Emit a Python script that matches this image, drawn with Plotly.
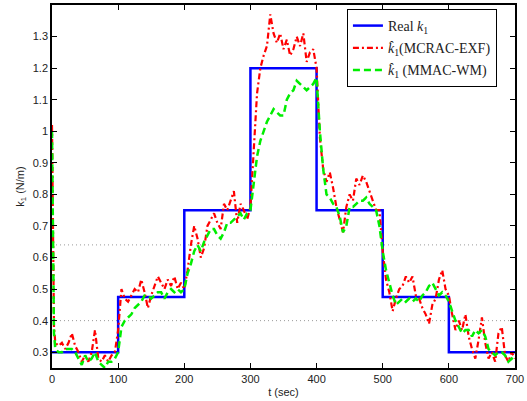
import plotly.graph_objects as go

# Time samples (s) shared by both estimator traces
t = [0, 1, 2, 3] + list(range(5, 701, 5))

# Estimated stiffness, MCRAC-EXF
k1_mcrac = [
    1.02, 0.80, 0.55, 0.38,
    0.33, 0.32, 0.33, 0.31, 0.33, 0.36, 0.32, 0.30, 0.27, 0.29,
    0.27, 0.30, 0.37, 0.28, 0.27, 0.29, 0.27, 0.29, 0.30, 0.37,
    0.50, 0.47, 0.46, 0.48, 0.50, 0.49, 0.53, 0.49, 0.44, 0.48,
    0.51, 0.54, 0.52, 0.50, 0.53, 0.51, 0.54, 0.50, 0.52, 0.50,
    0.56, 0.64, 0.70, 0.66, 0.60, 0.63, 0.70, 0.72, 0.74, 0.71,
    0.69, 0.77, 0.75, 0.78, 0.81, 0.71, 0.77, 0.75, 0.72, 0.76,
    0.95, 1.12, 1.20, 1.24, 1.27, 1.37, 1.31, 1.28, 1.31, 1.26,
    1.29, 1.24, 1.26, 1.30, 1.27, 1.31, 1.22, 1.25, 1.26, 1.20,
    0.98, 0.88, 0.84, 0.87, 0.82, 0.76, 0.72, 0.68, 0.76, 0.80,
    0.78, 0.85, 0.83, 0.86, 0.84, 0.81, 0.78, 0.75, 0.75, 0.62,
    0.53, 0.49, 0.43, 0.47, 0.50, 0.51, 0.54, 0.52, 0.54, 0.48,
    0.47, 0.44, 0.42, 0.39, 0.45, 0.47, 0.53, 0.56, 0.50, 0.48,
    0.42, 0.37, 0.40, 0.37, 0.42, 0.35, 0.31, 0.28, 0.34, 0.41,
    0.33, 0.28, 0.30, 0.27, 0.36, 0.38, 0.29, 0.27, 0.30, 0.28,
]

# Estimated stiffness, MMAC-WM
k1_mmac = [
    1.00, 0.78, 0.55, 0.36,
    0.31, 0.30, 0.30, 0.31, 0.31, 0.31, 0.30, 0.28, 0.26, 0.29,
    0.27, 0.28, 0.30, 0.27, 0.26, 0.25, 0.27, 0.27, 0.28, 0.30,
    0.38, 0.40, 0.41, 0.42, 0.44, 0.45, 0.46, 0.48, 0.48, 0.47,
    0.48, 0.49, 0.49, 0.47, 0.49, 0.50, 0.49, 0.50, 0.49, 0.50,
    0.55, 0.58, 0.62, 0.64, 0.62, 0.65, 0.67, 0.69, 0.69, 0.67,
    0.66, 0.68, 0.71, 0.71, 0.72, 0.73, 0.74, 0.72, 0.74, 0.75,
    0.84, 0.92, 0.97, 1.00, 1.03, 1.05, 1.07, 1.06, 1.05, 1.05,
    1.10, 1.12, 1.13, 1.16, 1.15, 1.14, 1.13, 1.14, 1.15, 1.17,
    1.00, 0.88, 0.80, 0.79, 0.77, 0.76, 0.73, 0.68, 0.70, 0.76,
    0.76, 0.77, 0.78, 0.78, 0.79, 0.77, 0.76, 0.75, 0.70, 0.62,
    0.56, 0.52, 0.48, 0.45, 0.46, 0.47, 0.46, 0.47, 0.46, 0.47,
    0.46, 0.48, 0.49, 0.51, 0.52, 0.50, 0.48, 0.49, 0.48, 0.46,
    0.43, 0.40, 0.38, 0.36, 0.37, 0.37, 0.35, 0.37, 0.36, 0.37,
    0.35, 0.31, 0.30, 0.29, 0.30, 0.30, 0.29, 0.27, 0.28, 0.27,
]

# True piecewise-constant stiffness
t_real = [0, 100, 200, 300, 400, 500, 600, 700]
k1_real = [0.30, 0.475, 0.75, 1.20, 0.75, 0.475, 0.30, 0.30]

# Dotted reference levels
ref_levels = [0.40, 0.64]

x_ticks = [0, 100, 200, 300, 400, 500, 600, 700]
y_ticks = [0.3, 0.4, 0.5, 0.6, 0.7, 0.8, 0.9, 1.0, 1.1, 1.2, 1.3]
y_tick_text = ["0.3", "0.4", "0.5", "0.6", "0.7", "0.8", "0.9", "1", "1.1", "1.2", "1.3"]

fig = go.Figure()

fig.add_trace(go.Scatter(
    x=t_real, y=k1_real, mode="lines", line_shape="hv",
    line=dict(color="#0000ff", width=2.5),
    name="Real <i>k</i><sub>1</sub>", legendgroup="a",
))
fig.add_trace(go.Scatter(
    x=t, y=k1_mcrac, mode="lines",
    line=dict(color="#ff0000", width=2.2, dash="6px,3px,2px,3px"),
    name="<i>k̂</i><sub>1</sub>(MCRAC-EXF)", legendgroup="b",
))
fig.add_trace(go.Scatter(
    x=t, y=k1_mmac, mode="lines",
    line=dict(color="#00ee00", width=2.5, dash="7px,4px"),
    name="<i>k̂</i><sub>1</sub> (MMAC-WM)", legendgroup="c",
))

for lvl in ref_levels:
    fig.add_shape(type="line", xref="paper", x0=0, x1=1, yref="y", y0=lvl, y1=lvl,
                  line=dict(color="#999999", width=1, dash="1px,3px"), layer="below")

axis_common = dict(
    showline=True, linecolor="black", linewidth=1.5, mirror="ticks",
    ticks="inside", ticklen=5, tickcolor="black", tickwidth=1,
    showgrid=False, zeroline=False,
    tickfont=dict(family="Liberation Sans, Arial, sans-serif", size=11, color="#222222"),
)

fig.update_xaxes(range=[0, 700], tickvals=x_ticks,
                 title=dict(text="t (sec)", standoff=4,
                            font=dict(family="Liberation Sans, Arial, sans-serif", size=11, color="#222222")),
                 **axis_common)
fig.update_yaxes(range=[0.25, 1.4], tickvals=y_ticks, ticktext=y_tick_text,
                 title=dict(text="k<sub>1</sub> (N/m)", standoff=6,
                            font=dict(family="Liberation Sans, Arial, sans-serif", size=11, color="#222222")),
                 **axis_common)

fig.update_layout(
    width=527, height=401,
    margin=dict(l=52, r=10, t=3, b=33),
    paper_bgcolor="white", plot_bgcolor="white",
    showlegend=True,
    legend=dict(
        x=0.637, y=0.989, xanchor="left", yanchor="top",
        bgcolor="white", bordercolor="black", borderwidth=1,
        font=dict(family="Liberation Serif, Times New Roman, serif", size=14, color="#222222"),
        traceorder="grouped", tracegroupgap=1,
    ),
)

fig.write_html("out.html")
